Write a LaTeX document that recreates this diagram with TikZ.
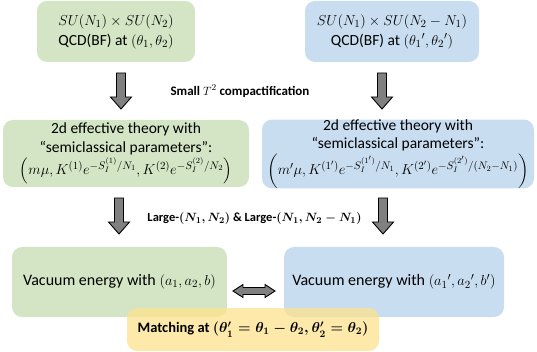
\documentclass[tikz,border=0pt]{standalone}
\usepackage{amsmath}
\usepackage{fontspec}
\setmainfont{Carlito}
\DeclareMathSizes{15.5}{14.5}{10.5}{8}
\DeclareMathSizes{15}{14}{10.5}{8}
\DeclareMathSizes{16}{15.5}{11}{8.5}
\DeclareMathSizes{14.5}{14}{10}{8}
\DeclareMathSizes{13}{13}{9.5}{7.5}
\DeclareMathSizes{12.5}{12}{9}{7}
\definecolor{boxgreen}{HTML}{D3E5C4}
\definecolor{boxblue}{HTML}{C9DDF1}
\definecolor{boxyellow}{HTML}{FDE38E}
\definecolor{arrowgray}{HTML}{808080}
\newcommand{\blockdown}[2]{%
  \draw[blockarrow] (#1-4.5,#2) -- (#1+4.5,#2) -- (#1+4.5,#2+24) -- (#1+10.5,#2+24)
    -- (#1,#2+36) -- (#1-10.5,#2+24) -- (#1-4.5,#2+24) -- cycle;}
\newcommand{\pr}{^{\prime}}
\newcommand{\formulasize}{\fontsize{15}{18}\selectfont}
\begin{document}
\begin{tikzpicture}[x=1pt,y=-1pt,
  box/.style={rounded corners=10pt, inner sep=0pt, align=center,
    font=\fontsize{15.5}{18.5}\selectfont},
  greenbox/.style={box, fill=boxgreen},
  bluebox/.style={box, fill=boxblue},
  topfont/.style={font=\fontsize{15.5}{20}\selectfont},
  yellowbox/.style={box, fill=boxyellow, fill opacity=0.75, text opacity=1,
    font=\fontsize{14.5}{18}\selectfont},
  vacfont/.style={font=\fontsize{16}{20}\selectfont},
  steplabel/.style={font=\fontsize{13}{15}\selectfont\bfseries, inner sep=0pt},
  largelabel/.style={font=\fontsize{12.5}{15}\selectfont\bfseries, inner sep=0pt},
  blockarrow/.style={draw=black, line width=0.9pt, fill=arrowgray, line join=miter}]
\useasboundingbox (0,0) rectangle (537,352);

\node[greenbox, topfont, minimum width=158pt, minimum height=61pt] (qcdA) at (116,31.5)
  {$SU(N_1)\times SU(N_2)$\\QCD(BF) at $(\theta_1,\theta_2)$};
\node[bluebox, topfont, minimum width=174pt, minimum height=61pt] (qcdB) at (392,31.5)
  {$SU(N_1)\times SU(N_2-N_1)$\\QCD(BF) at $(\theta_1{}\pr,\theta_2{}\pr)$};

\node[greenbox, minimum width=246pt, minimum height=67pt] (effA) at (126,153.5)
  {2d effective theory with\\“semiclassical parameters”:\\[1.5pt]
   \formulasize$\left(m\mu, K^{(1)}e^{-S_I^{(1)}/N_1}, K^{(2)}e^{-S_I^{(2)}/N_2}\right)$};
\node[bluebox, minimum width=272pt, minimum height=66pt] (effB) at (398,154)
  {2d effective theory with\\“semiclassical parameters”:\\[1.5pt]
   \formulasize$\left(m\pr\mu, K^{(1\pr)}e^{-S_I^{(1\pr)}/N_1}, K^{(2\pr)}e^{-S_I^{(2\pr)}/(N_2-N_1)}\right)$};

\node[greenbox, vacfont, minimum width=215pt, minimum height=70pt] (vacA) at (119.5,282)
  {Vacuum energy with $(a_1,a_2,b)$};
\node[bluebox, vacfont, minimum width=220pt, minimum height=70pt] (vacB) at (394,282)
  {Vacuum energy with $(a_1{}\pr,a_2{}\pr,b\pr)$};
\node[yellowbox, minimum width=252pt, minimum height=43pt] (match) at (253,329.5)
  {\textbf{Matching at} $\boldsymbol{(\theta\pr_1=\theta_1-\theta_2,\theta\pr_2=\theta_2)}$};

\node[steplabel] (lblT) at (240,91) {Small $T^2$ compactification};
\node[largelabel] (lblN) at (254.5,219)
  {Large-$\boldsymbol{(N_1,N_2)}$ \& Large-$\boldsymbol{(N_1,N_2-N_1)}$};

\blockdown{121}{73}
\blockdown{382}{73}
\blockdown{119}{198}
\blockdown{383}{198}

\draw[blockarrow] (233,291) -- (243,284.5) -- (243,287.5) -- (265,287.5) -- (265,284.5)
  -- (275,291) -- (265,297.5) -- (265,294.5) -- (243,294.5) -- (243,297.5) -- cycle;
\end{tikzpicture}
\end{document}
